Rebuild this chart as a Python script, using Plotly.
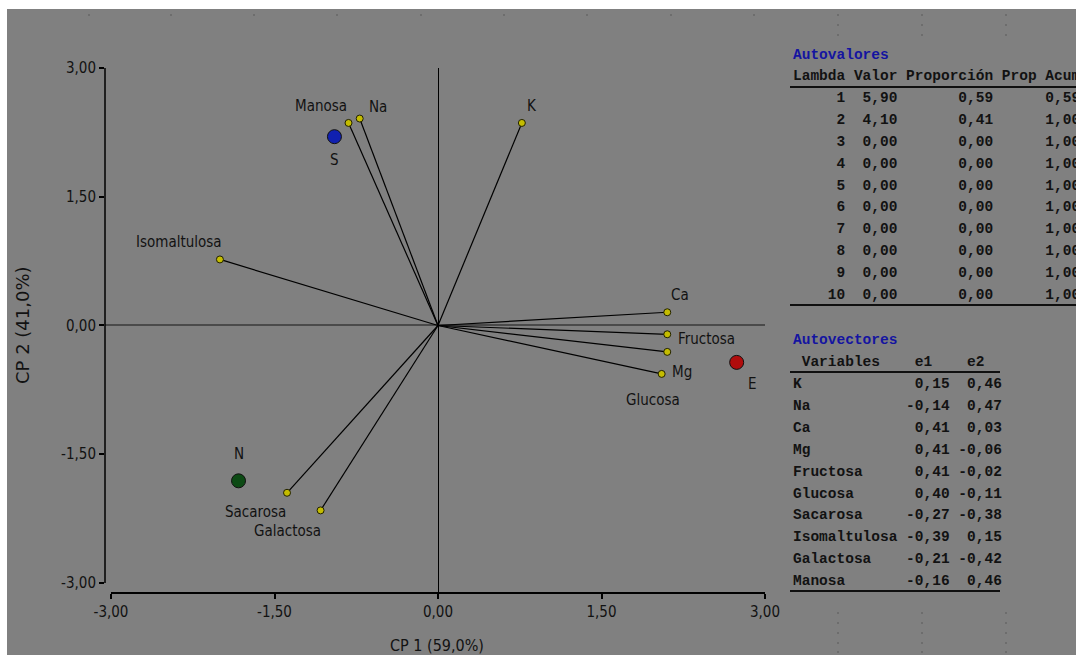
import plotly.graph_objects as go

# ---- data -----------------------------------------------------------------
variables = ["K", "Na", "Ca", "Mg", "Fructosa", "Glucosa",
             "Sacarosa", "Isomaltulosa", "Galactosa", "Manosa"]
e1 = [0.15, -0.14, 0.41, 0.41, 0.41, 0.40, -0.27, -0.39, -0.21, -0.16]
e2 = [0.46, 0.47, 0.03, -0.06, -0.02, -0.11, -0.38, 0.15, -0.42, 0.46]
vector_scale = 5.13  # eigenvector length in biplot units

groups = ["S", "N", "E"]
cp1 = [-0.95, -1.83, 2.74]
cp2 = [2.20, -1.81, -0.43]

lambdas = [1, 2, 3, 4, 5, 6, 7, 8, 9, 10]
valor = [5.90, 4.10, 0.00, 0.00, 0.00, 0.00, 0.00, 0.00, 0.00, 0.00]
proporcion = [0.59, 0.41, 0.00, 0.00, 0.00, 0.00, 0.00, 0.00, 0.00, 0.00]
prop_acum = [0.59, 1.00, 1.00, 1.00, 1.00, 1.00, 1.00, 1.00, 1.00, 1.00]

tick_vals = [-3.0, -1.5, 0.0, 1.5, 3.0]

# ---- layout geometry (pixels) ----------------------------------------------
W, H = 1076, 655
ML, MR, MT, MB = 105, 311, 68, 62
PW, PH = W - ML - MR, H - MT - MB
X_RANGE = [-3.055, 3.0]
Y_RANGE = [-3.117, 3.0]


def px(x):
    return (x - ML) / PW


def py(y):
    return (H - MB - y) / PH


BG = "#808080"
INK = "#121212"
NARROW = "DejaVu Sans Condensed, Liberation Sans, sans-serif"
WIDE = "DejaVu Sans, Liberation Sans, sans-serif"
MONO = "Liberation Mono, Courier New, monospace"
BLUE = "#1414a0"


def fmt(v):
    return f"{v:.2f}".replace(".", ",")


fig = go.Figure()

# loading vectors from the origin
vx = [a * vector_scale for a in e1]
vy = [b * vector_scale for b in e2]
line_x, line_y = [], []
for x, y in zip(vx, vy):
    line_x += [0, x, None]
    line_y += [0, y, None]
fig.add_trace(go.Scatter(x=line_x, y=line_y, mode="lines",
                         line=dict(color="#000000", width=1.2),
                         hoverinfo="skip", showlegend=False))
fig.add_trace(go.Scatter(x=vx, y=vy, mode="markers", text=variables,
                         marker=dict(size=7, color="#c4bc00",
                                     line=dict(color="#202000", width=1)),
                         showlegend=False))

# group scores
group_colors = ["#1020b0", "#0c4a14", "#b00c0c"]
for g, x, y, c in zip(groups, cp1, cp2, group_colors):
    fig.add_trace(go.Scatter(x=[x], y=[y], mode="markers", name=g,
                             marker=dict(size=14, color=c,
                                         line=dict(color="#101010", width=1)),
                             showlegend=False))

# label offsets (pixels) for vector ends and group points
var_offsets = {
    "K": (10, 17), "Na": (18, 12), "Ca": (13, 17), "Mg": (15, -20),
    "Fructosa": (39, -5), "Glucosa": (-9, -26), "Sacarosa": (-32, -19),
    "Isomaltulosa": (-41, 17), "Galactosa": (-33, -21), "Manosa": (-28, 17),
}
group_offsets = {"S": (0, -23), "N": (0, 27), "E": (16, -22)}

label_font = dict(family=NARROW, size=15, color=INK)
annotations = []
for name, x, y in zip(variables, vx, vy):
    dx, dy = var_offsets[name]
    annotations.append(dict(x=x, y=y, xref="x", yref="y", text=name,
                            showarrow=False, xshift=dx, yshift=dy,
                            font=label_font))
for g, x, y in zip(groups, cp1, cp2):
    dx, dy = group_offsets[g]
    annotations.append(dict(x=x, y=y, xref="x", yref="y", text=g,
                            showarrow=False, xshift=dx, yshift=dy,
                            font=label_font))

# axis titles
annotations.append(dict(x=px(437), y=py(645), xref="paper", yref="paper",
                        text="CP 1 (59,0%)", showarrow=False,
                        xanchor="center", yanchor="middle",
                        font=dict(family=NARROW, size=16, color=INK)))
annotations.append(dict(x=px(22), y=py(325), xref="paper", yref="paper",
                        text="CP 2 (41,0%)", showarrow=False, textangle=-90,
                        xanchor="center", yanchor="middle",
                        font=dict(family=WIDE, size=18, color=INK)))

# ---- text tables -------------------------------------------------------------
NB = "\u00a0"
TX = 791
ROW = 21.9


def mono(text, x, y, color=INK, bold=True):
    t = text.replace(" ", NB)
    if bold:
        t = f"<b>{t}</b>"
    annotations.append(dict(x=px(x), y=py(y), xref="paper", yref="paper",
                            text=t, showarrow=False, xanchor="left",
                            yanchor="middle",
                            font=dict(family=MONO, size=14.5, color=color)))


mono("Autovalores", TX, 55, BLUE)
mono("Lambda Valor Proporción Prop Acum", TX, 76)
for i, (l, v, p, a) in enumerate(zip(lambdas, valor, proporcion, prop_acum)):
    mono(f"{l:>6} {fmt(v):>5} {fmt(p):>10} {fmt(a):>9}", TX, 98 + i * ROW)

mono("Autovectores", TX, 340, BLUE)
mono(" Variables    e1    e2", TX, 362)
for i, (n, a, b) in enumerate(zip(variables, e1, e2)):
    mono(f"{n:<12} {fmt(a):>5} {fmt(b):>5}", TX, 384 + i * ROW)

# ---- shapes ------------------------------------------------------------------
shapes = [
    # window background
    dict(type="rect", xref="paper", yref="paper", x0=px(7), x1=px(W + 2),
         y0=py(H + 2), y1=py(9), fillcolor=BG, line=dict(width=0),
         layer="below"),
    # axis lines spanning exactly -3..3
    dict(type="line", xref="paper", yref="y", x0=0, x1=0, y0=-3, y1=3,
         line=dict(color="#000000", width=1.5)),
    dict(type="line", xref="x", yref="paper", x0=-3, x1=3, y0=0, y1=0,
         line=dict(color="#000000", width=2)),
    # table rules
    dict(type="line", xref="paper", yref="paper", x0=px(790), x1=px(W + 5),
         y0=py(87), y1=py(87), line=dict(color="#101010", width=2)),
    dict(type="line", xref="paper", yref="paper", x0=px(790), x1=px(W + 5),
         y0=py(305), y1=py(305), line=dict(color="#101010", width=2)),
    dict(type="line", xref="paper", yref="paper", x0=px(790), x1=px(1000),
         y0=py(372), y1=py(372), line=dict(color="#101010", width=2)),
    dict(type="line", xref="paper", yref="paper", x0=px(790), x1=px(1000),
         y0=py(591), y1=py(591), line=dict(color="#101010", width=2)),
]

# faint sheet-grid dots of the worksheet window
dot_cols = [89, 171, 254, 337, 421, 504, 587, 671, 754, 838, 922, 1006]
for cx in dot_cols:
    ys = [15]
    if cx >= 838:
        ys = [15, 25, 35, 613, 623, 633, 643, 652]
    for cy in ys:
        shapes.append(dict(type="rect", xref="paper", yref="paper",
                           x0=px(cx - 0.7), x1=px(cx + 0.7),
                           y0=py(cy + 0.7), y1=py(cy - 0.7),
                           fillcolor="#5c5c5c", line=dict(width=0)))

axis_common = dict(showgrid=False, ticks="outside", ticklen=5, tickwidth=1.5,
                   tickcolor="#000000", showline=False,
                   tickvals=tick_vals, ticktext=[fmt(v) for v in tick_vals],
                   tickfont=dict(family=NARROW, size=15, color=INK))

fig.update_layout(
    width=W, height=H,
    margin=dict(l=ML, r=MR, t=MT, b=MB, pad=0),
    paper_bgcolor="#ffffff",
    plot_bgcolor="rgba(0,0,0,0)",
    xaxis=dict(range=X_RANGE, zeroline=True, zerolinecolor="#000000",
               zerolinewidth=1, **axis_common),
    yaxis=dict(range=Y_RANGE, zeroline=True, zerolinecolor="#4a4a4a",
               zerolinewidth=2, **axis_common),
    shapes=shapes,
    annotations=annotations,
    showlegend=False,
)

fig.write_html("out.html")
